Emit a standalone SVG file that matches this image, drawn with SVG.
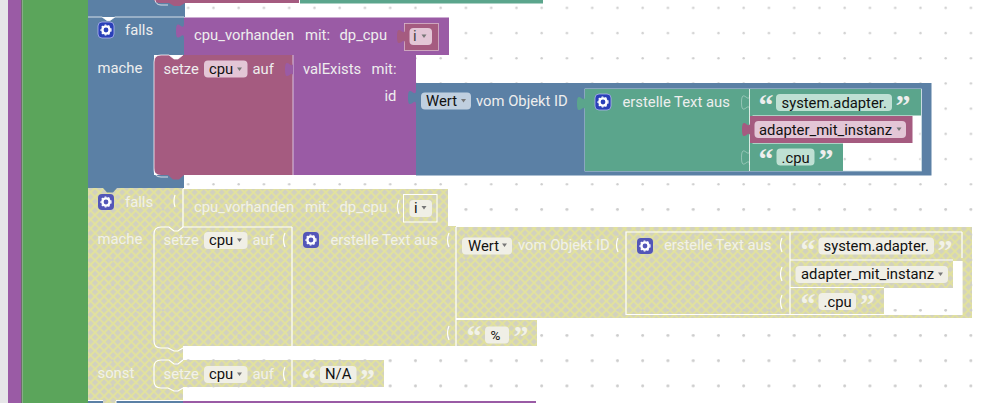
<svg xmlns="http://www.w3.org/2000/svg" width="992" height="403" viewBox="0 0 992 403">
<style>
text{font-family:Roboto,"Liberation Sans",sans-serif;font-size:14.8px;fill:#eee}
.d{fill:#111}
.y{fill:#f2f2e8}
.q{font-family:"Liberation Serif",serif;font-size:30px;font-weight:700}
.blue{fill:#5b80a5}.pur{fill:#9a5ba5}.pink{fill:#a55b80}.teal{fill:#5ba58c}
.hl{fill:none;stroke:#fff;stroke-opacity:.75;stroke-width:1}
.hf{fill:none;stroke:#fff;stroke-opacity:.35;stroke-width:1}
.yhl{fill:none;stroke:#fff;stroke-width:1.2}
.chipP{fill:#e3c6d6}.chipB{fill:#c0cfdf}.chipT{fill:#bfe0d3}.chipY{fill:#f0efe6}
.arr{fill:#777}
.hatch{fill:url(#hatch)}
</style>
<defs>
<pattern id="dots" x="175" y="-5" width="25.25" height="25.2" patternUnits="userSpaceOnUse">
<circle cx="13.200" cy="12.800" r="1.200" fill="#cdcdcd"/>
</pattern>
<pattern id="hatch" width="6.400" height="6.400" patternUnits="userSpaceOnUse" patternTransform="rotate(45)">
<rect width="6.400" height="6.400" fill="#d2d1c0"/>
<path d="M0 1.600H6.400M1.600 0V6.400" stroke="#e2e29c" stroke-width="2" fill="none"/>
</pattern>
<path id="tab" d="M0 0c0 10-8-8-8 7.500s8-2.500 8 7.500z"/>
<path id="tabl" d="M0 0c0 10-8-8-8 7.500s8-2.500 8 7.500"/>
<g id="gear">
<rect x="-8" y="-8" width="16" height="16" rx="4" fill="#2a40b8" stroke="#aeb4ee" stroke-width=".8"/>
<circle r="3.600" fill="none" stroke="#fff" stroke-width="2.400"/>
<circle r="5" fill="none" stroke="#fff" stroke-width="1.200" stroke-dasharray="1.700 1.900"/>
</g>
<g id="gearY">
<rect x="-8" y="-8" width="16" height="16" rx="4" fill="#5356b8"/>
<circle r="3.600" fill="none" stroke="#fff" stroke-width="2.400"/>
<circle r="5" fill="none" stroke="#fff" stroke-width="1.200" stroke-dasharray="1.700 1.900"/>
</g>
<path id="arrow" d="M-2.500-1.500h5l-2.500 3.500z"/>
</defs>
<rect width="992" height="403" fill="#fff"/>
<rect width="992" height="403" fill="url(#dots)"/>
<g id="sidebar">
<rect x="0" y="0" width="8" height="403" fill="#e6e6e8"/>
<rect x="8" y="0" width="13" height="403" fill="#9a5ba5"/>
<rect x="21" y="0" width="1.500" height="403" fill="#6d6d6d"/>
<rect x="22.500" y="0" width="65.500" height="403" fill="#5ba55b"/>
</g>
<g id="top-row">
<rect x="88" y="0" width="97" height="17" class="blue"/>
<path d="M155 0h144v3H185l-5 3h-6l-5-3h-9q-5 0-6-3z" class="pink"/>
<rect x="300" y="0" width="243" height="3.500" class="teal"/>
<rect x="299" y="0" width="1" height="4" fill="#fff" opacity=".7"/>
<path class="hl" d="M155 0q1 5 6 5h7"/>
</g>
<g id="falls-block">
<path d="M88 17h14l5 3.500h3l5-3.500h69v38h-30v120h30v13H88z" class="blue"/>
<path class="hl" d="M88 17h14l5 3.500h3l5-3.500h69"/>
<use href="#gear" x="106" y="30"/>
<text x="125" y="35">falls</text>
<text x="97.500" y="73">mache</text>
</g>
<g id="cpu-vorhanden-1">
<rect x="184" y="17.500" width="265" height="37.500" class="pur"/>
<use href="#tab" x="184" y="23.500" class="pur"/>
<text x="194" y="40">cpu_vorhanden</text>
<text x="305" y="40">mit:</text>
<text x="339.500" y="40">dp_cpu</text>
<rect x="404.500" y="23.500" width="34" height="27" class="pink" stroke="#d9b8c9" stroke-width=".8"/>
<use href="#tab" x="405" y="29" class="pink"/>
<rect x="409.500" y="28" width="22.500" height="17" rx="4" class="chipP"/>
<text x="413" y="41" style="fill:#444">i</text>
<use href="#arrow" x="424" y="36" class="arr"/>
</g>
<g id="setze-1">
<path d="M161 55h8l5 4h4l5-4h110v120H184l-5 4.500h-6l-5-4.500h-7q-7 0-7-7V62q0-7 7-7z" class="pink"/>
<path class="hl" d="M168 177h-7q-7 0-7-7V62q0-7 7-7h8l5 4h4l5-4"/>
<text x="163.500" y="74">setze</text>
<rect x="204" y="60.500" width="43.500" height="17" rx="4" class="chipP"/>
<text x="209" y="74" class="d">cpu</text>
<use href="#arrow" x="239.500" y="69" class="arr"/>
<text x="252.500" y="74">auf</text>
</g>
<g id="valexists">
<rect x="293" y="55" width="123" height="120" class="pur"/>
<path d="M293 55v120" stroke="#d9c4dd" stroke-width="1" fill="none"/>
<use href="#tab" x="293" y="62" class="pur"/>
<text x="303" y="74">valExists</text>
<text x="371.500" y="74">mit:</text>
<text x="384.500" y="101">id</text>
</g>
<g id="wert-1">
<rect x="416" y="83" width="515.500" height="92.500" class="blue"/>
<rect x="585" y="89" width="336.500" height="82" fill="#fff" stroke="#cfe0e6" stroke-width=".8"/>
<rect x="421" y="92.500" width="50" height="17" rx="4" class="chipB"/>
<use href="#tab" x="416" y="90" class="blue"/>
<text x="426" y="106" class="d">Wert</text>
<use href="#arrow" x="463.500" y="100.500" class="arr"/>
<text x="476" y="106">vom Objekt ID</text>
</g>
<rect x="843.500" y="144" width="77" height="26.500" fill="url(#dots)"/>
<rect x="913" y="116" width="7.500" height="28" fill="url(#dots)"/>
<g id="text-1">
<rect x="585" y="89" width="164" height="82" class="teal"/>
<use href="#tab" x="585" y="96" class="teal"/>
<use href="#gear" x="603" y="102"/>
<text x="622.500" y="107">erstelle Text aus</text>
</g>
<g id="str-1a">
<rect x="749.500" y="89" width="171.500" height="26.500" class="teal"/>
<rect x="749.500" y="143.500" width="93.500" height="27.500" class="teal"/>
<rect x="749.500" y="115" width="3" height="29" class="teal"/>
<path d="M749.500 89v82" stroke="#e3f0ea" stroke-width=".8" fill="none"/>
<use href="#tabl" x="749.500" y="95" class="hf"/>
<use href="#tabl" x="749.500" y="150" class="hf"/>
<text x="758.500" y="115" class="q">“</text>
<rect x="776" y="94" width="116" height="17" rx="4" class="chipT"/>
<text x="781.500" y="107.500" class="d">system.adapter.</text>
<text x="895.500" y="115" class="q">”</text>
<text x="758.500" y="169" class="q">“</text>
<rect x="776.500" y="148.500" width="38" height="17" rx="4" class="chipT"/>
<text x="781.500" y="162.500" class="d">.cpu</text>
<text x="818.500" y="169" class="q">”</text>
</g>
<g id="adapter-1">
<rect x="750" y="116" width="162.500" height="27" class="pink"/>
<use href="#tab" x="750" y="122" class="pink"/>
<rect x="754.500" y="121" width="151.500" height="17" rx="4" class="chipP"/>
<text x="759" y="134.500" class="d">adapter_mit_instanz</text>
<use href="#arrow" x="899" y="129" class="arr"/>
</g>
<g id="falls-disabled">
<rect x="88" y="188" width="95" height="212" class="hatch"/>
<rect x="103" y="400" width="13" height="3" class="hatch"/>
<rect x="183" y="189" width="265" height="37" class="hatch"/>
<rect x="183" y="226" width="109" height="120" class="hatch"/>
<rect x="292" y="226" width="164" height="120" class="hatch"/>
<path d="M456 227H972V318H456zM953 261V288H884V314H962V261z" fill-rule="evenodd" class="hatch"/>
<rect x="456" y="320" width="81" height="26" class="hatch"/>
<rect x="183" y="360" width="201" height="27" class="hatch"/>
<rect x="88" y="188" width="884" height="212" fill="url(#dots)"/>
<use href="#gearY" x="106" y="202"/>
<text x="125" y="207" class="y">falls</text>
<text x="97.500" y="244" class="y">mache</text>
<text x="97.500" y="378" class="y">sonst</text>
<path class="yhl" d="M183 189v38M175 195q-2 6 0 12"/>
<text x="194" y="212" class="y">cpu_vorhanden</text>
<text x="305" y="212" class="y">mit:</text>
<text x="339.500" y="212" class="y">dp_cpu</text>
<path class="yhl" d="M399 200q-3 7 0 14"/>
<rect x="403.500" y="194.500" width="33.500" height="27.500" fill="none" stroke="#fff"/>
<rect x="409.500" y="200" width="22.500" height="17" rx="4" class="chipY"/>
<text x="414" y="213" class="d">i</text>
<use href="#arrow" x="424" y="207.500" class="arr"/>
<path class="yhl" d="M168 348h-7q-7 0-7-7V234q0-7 7-7h8l5 4h4l5-4h109"/>
<path class="yhl" d="M292 227v119M168 348l6 3h4l5-3"/>
<text x="163.500" y="245" class="y">setze</text>
<rect x="204" y="232" width="43.500" height="17" rx="4" class="chipY"/>
<text x="209" y="245" class="d">cpu</text>
<use href="#arrow" x="239.500" y="240" class="arr"/>
<text x="252.500" y="245" class="y">auf</text>
<path class="yhl" d="M285 233q-3 7 0 14"/>
<use href="#gearY" x="311" y="240"/>
<text x="330.500" y="245" class="y">erstelle Text aus</text>
<path class="yhl" d="M449 233q-3 7 0 14M449 326q-3 7 0 14M456 227v119M456 319h81"/>
<rect x="462" y="237.500" width="50" height="17" rx="4" class="chipY"/>
<text x="468" y="250.500" class="d">Wert</text>
<use href="#arrow" x="504.500" y="245" class="arr"/>
<text x="518" y="250" class="y">vom Objekt ID</text>
<path class="yhl" d="M618 238q-3 7 0 14"/>
<path class="yhl" d="M962 232H626V314.500H962V261M962 232v26"/>
<use href="#gearY" x="645" y="246"/>
<text x="664" y="250" class="y">erstelle Text aus</text>
<path class="yhl" d="M782 238q-3 7 0 14M782 267q-3 7 0 14M782 295q-3 7 0 14M790 232v83"/>
<path class="yhl" d="M790 260H953M790 287.500H884"/>
<text x="800.500" y="260" class="q y">“</text>
<rect x="818.500" y="237.500" width="115.500" height="17" rx="4" class="chipY"/>
<text x="823.500" y="251" class="d">system.adapter.</text>
<text x="937.500" y="260" class="q y">”</text>
<rect x="795.500" y="266" width="152.500" height="17" rx="4" class="chipY"/>
<text x="801" y="279" class="d">adapter_mit_instanz</text>
<use href="#arrow" x="940.500" y="274" class="arr"/>
<text x="800.500" y="314" class="q y">“</text>
<rect x="818.500" y="293" width="37.500" height="17" rx="4" class="chipY"/>
<text x="823.500" y="306.500" class="d">.cpu</text>
<text x="860" y="314" class="q y">”</text>
<text x="466.500" y="346" class="q y">“</text>
<rect x="485" y="326.500" width="24" height="17" rx="4" class="chipY"/>
<text x="490.500" y="339.500" class="d" style="font-size:13.500px">%</text>
<text x="513.500" y="346" class="q y">”</text>
<path class="yhl" d="M168 388h-7q-7 0-7-7v-14q0-7 7-7h8l5 4h4l5-4M292 360v27M168 388l6 3h4l5-3"/>
<text x="163.500" y="379" class="y">setze</text>
<rect x="204" y="366" width="43.500" height="17" rx="4" class="chipY"/>
<text x="209" y="379" class="d">cpu</text>
<use href="#arrow" x="239.500" y="374" class="arr"/>
<text x="252.500" y="379" class="y">auf</text>
<path class="yhl" d="M285 367q-3 7 0 14"/>
<text x="301.500" y="389" class="q y">“</text>
<rect x="320" y="366" width="36.500" height="17" rx="4" class="chipY"/>
<text x="325" y="379" class="d">N/A</text>
<text x="360" y="389" class="q y">”</text>
</g>
<path id="falls-tab" d="M103 188h14l-4 4.500h-6z" class="blue"/>
<g id="bottom-row">
<rect x="88" y="401" width="15" height="2" class="blue"/>
<rect x="116" y="401" width="67" height="2" class="blue"/>
<path d="M116 403v-2" stroke="#fff" fill="none"/>
<rect x="183" y="401" width="353" height="2" class="pur"/>
</g>
</svg>
